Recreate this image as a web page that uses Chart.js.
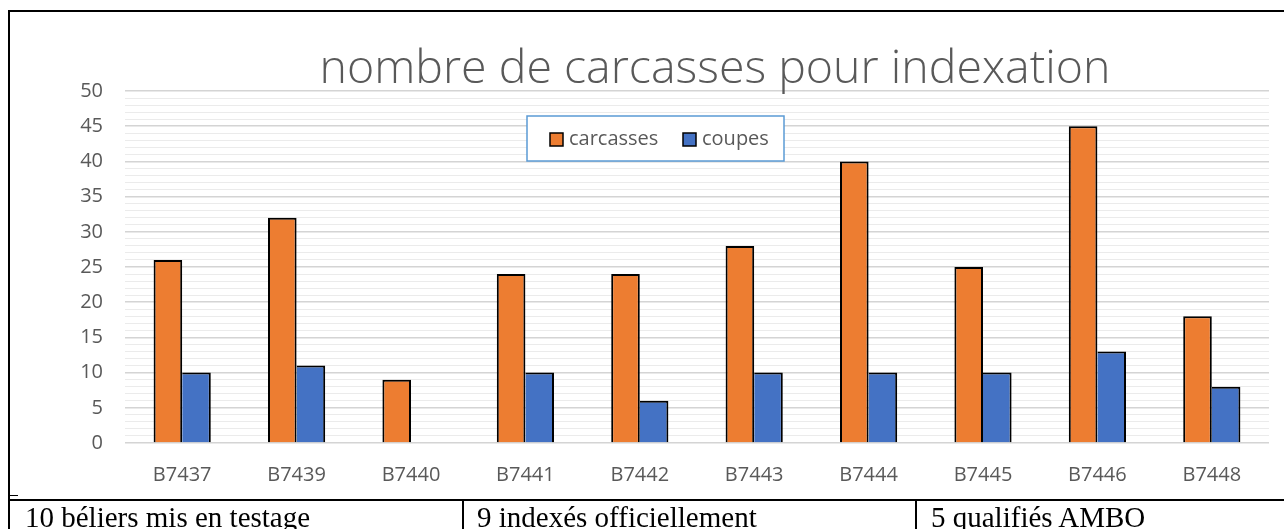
<!DOCTYPE html>
<html>
<head>
<meta charset="utf-8">
<script src="https://cdn.jsdelivr.net/npm/chart.js@4.4.1/dist/chart.umd.min.js"></script>
<style>
  html, body { margin: 0; padding: 0; background: #fff; }
  body { width: 1284px; height: 529px; position: relative; overflow: hidden; }
  #wrap { position: absolute; left: 9px; top: 10px; width: 1275px; height: 490px; }
  .line { position: absolute; background: #000; }
  .cell { position: absolute; top: 503px; font-family: "Liberation Serif", "Times New Roman", serif; font-size: 29px; line-height: 29px; color: #000; white-space: nowrap; }
</style>
</head>
<body>
<div id="wrap"><canvas id="c" width="1275" height="490"></canvas></div>
<div class="line" style="left:8px; top:10px; width:1276px; height:2px;"></div>
<div class="line" style="left:8px; top:10px; width:2px; height:519px;"></div>
<div class="line" style="left:8px; top:495px; width:10px; height:1px;"></div>
<div class="line" style="left:8px; top:499px; width:1276px; height:2px;"></div>
<div class="line" style="left:462px; top:500px; width:2px; height:29px;"></div>
<div class="line" style="left:915px; top:500px; width:2px; height:29px;"></div>
<div class="cell" style="left:25px;">10 béliers mis en testage</div>
<div class="cell" style="left:477px;">9 indexés officiellement</div>
<div class="cell" style="left:931px;">5 qualifiés AMBO</div>
<script>
const categories = ["B7437","B7439","B7440","B7441","B7442","B7443","B7444","B7445","B7446","B7448"];
const carcasses = [26, 32, 9, 24, 24, 28, 40, 25, 45, 18];
const coupes = [10, 11, null, 10, 6, 10, 10, 10, 13, 8];
const seriesNames = ["carcasses", "coupes"];
const chartTitle = "nombre de carcasses pour indexation";

const FONT = "'Open Sans', 'DejaVu Sans', sans-serif";
const TEXT = "#595959";

const overlay = {
  id: 'overlay',
  afterDraw(chart) {
    const ctx = chart.ctx;
    ctx.save();
    // title
    ctx.fillStyle = TEXT;
    ctx.font = "300 46.5px " + FONT;
    ctx.textAlign = "center";
    ctx.textBaseline = "alphabetic";
    ctx.fillText(chartTitle, 706, 73);
    // legend
    const bx = 518, by = 106, bw = 257, bh = 45;
    ctx.fillStyle = "#fff";
    ctx.fillRect(bx, by, bw, bh);
    ctx.strokeStyle = "#5B9BD5";
    ctx.lineWidth = 1.5;
    ctx.strokeRect(bx, by, bw, bh);
    ctx.font = "20px " + FONT;
    ctx.textAlign = "left";
    ctx.textBaseline = "middle";
    const items = [
      {x: 541, color: chart.data.datasets[0].backgroundColor, label: seriesNames[0]},
      {x: 674, color: chart.data.datasets[1].backgroundColor, label: seriesNames[1]}
    ];
    items.forEach(it => {
      ctx.fillStyle = it.color;
      ctx.fillRect(it.x, 123, 13, 13);
      ctx.strokeStyle = "#000";
      ctx.lineWidth = 1.5;
      ctx.strokeRect(it.x, 123, 13, 13);
      ctx.fillStyle = TEXT;
      ctx.fillText(it.label, it.x + 19, 129);
    });
    ctx.restore();
  }
};

new Chart(document.getElementById('c'), {
  type: 'bar',
  data: {
    labels: categories,
    datasets: [
      { label: seriesNames[0], data: carcasses, backgroundColor: "#ED7D31", borderColor: "#000",
        borderWidth: { top: 2, left: 2, right: 2, bottom: 0 }, categoryPercentage: 0.5, barPercentage: 1.0 },
      { label: seriesNames[1], data: coupes, backgroundColor: "#4472C4", borderColor: "#000",
        borderWidth: { top: 2, left: 0, right: 2, bottom: 0 }, categoryPercentage: 0.5, barPercentage: 1.0 }
    ]
  },
  options: {
    responsive: false,
    animation: false,
    devicePixelRatio: 1,
    layout: { padding: { top: 81, right: 15, bottom: 0, left: 0 } },
    plugins: { legend: { display: false }, title: { display: false }, tooltip: { enabled: false } },
    scales: {
      x: {
        grid: { display: false, drawTicks: false },
        border: { display: false },
        ticks: { color: TEXT, font: { family: FONT, size: 20 }, padding: 20 },
        afterFit(s) { s.height = 57; }
      },
      y: {
        min: 0, max: 50,
        ticks: {
          stepSize: 1, autoSkip: false, color: TEXT, padding: 22,
          font: { family: FONT, size: 20 },
          callback: v => (v % 5 === 0 ? String(v) : "")
        },
        grid: {
          drawTicks: false,
          color: c => (c.tick && c.tick.value % 5 === 0 ? "#d4d4d4" : "#ebebeb"),
          lineWidth: c => (c.tick && c.tick.value % 5 === 0 ? 1.5 : 1)
        },
        border: { display: false },
        afterFit(s) { s.width = 116; }
      }
    }
  },
  plugins: [overlay]
});
</script>
</body>
</html>
